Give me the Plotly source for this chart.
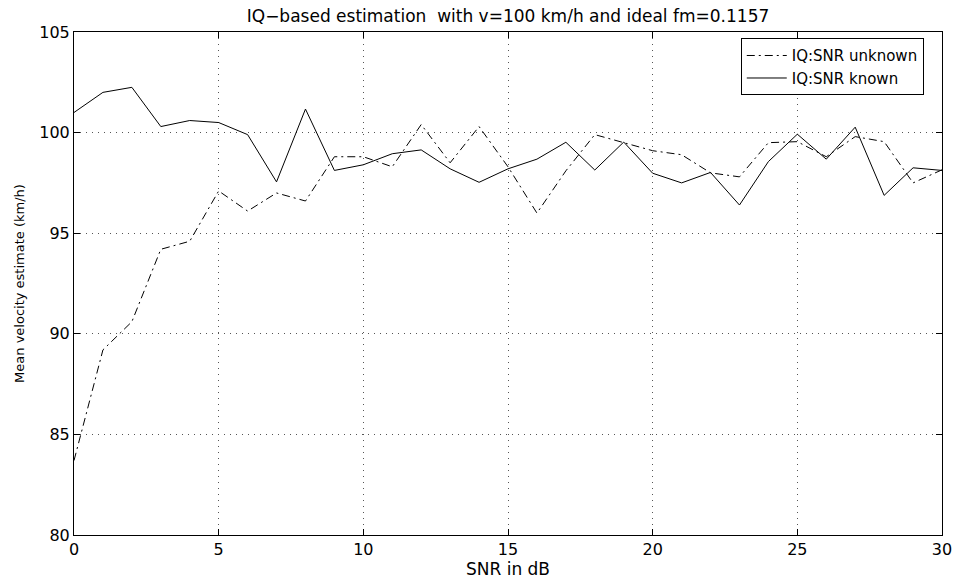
import plotly.graph_objects as go

snr = list(range(0, 31))
snr_unknown = [83.7, 89.2, 90.6, 94.2, 94.6, 97.1, 96.1, 97.0, 96.6, 98.8, 98.8,
               98.3, 100.4, 98.5, 100.3, 98.3, 96.0, 98.1, 99.9, 99.5, 99.1,
               98.9, 98.0, 97.8, 99.5, 99.55, 98.8, 99.8, 99.55, 97.5, 98.15]
snr_known = [101.0, 102.0, 102.25, 100.3, 100.6, 100.5, 99.9, 97.55, 101.17, 98.12, 98.4,
             98.95, 99.14, 98.2, 97.53, 98.2, 98.68, 99.52, 98.14, 99.53, 97.98,
             97.5, 98.02, 96.4, 98.56, 99.92, 98.68, 100.27, 96.88, 98.25, 98.12]
x_ticks = [0, 5, 10, 15, 20, 25, 30]
y_ticks = [80, 85, 90, 95, 100, 105]

FONT = "DejaVu Sans, Liberation Sans, Arial, sans-serif"

fig = go.Figure()
fig.add_trace(go.Scatter(x=snr, y=snr_unknown, mode="lines", name="IQ:SNR unknown",
                         line=dict(color="black", width=1, dash="8px,4px,2px,4px")))
fig.add_trace(go.Scatter(x=snr, y=snr_known, mode="lines", name="IQ:SNR known",
                         line=dict(color="black", width=1)))

axis_common = dict(showline=True, linecolor="black", linewidth=1, mirror="ticks",
                   ticks="inside", ticklen=6, tickcolor="black",
                   showgrid=True, gridcolor="#555555", gridwidth=1, griddash="1px,5px",
                   zeroline=False, tickfont=dict(size=16, color="black", family=FONT))

fig.update_xaxes(range=[0, 30], tickvals=x_ticks,
                 title=dict(text="SNR in dB", font=dict(size=17, family=FONT, color="black"), standoff=0),
                 **axis_common)
fig.update_yaxes(range=[80, 105], tickvals=y_ticks,
                 title=dict(text="Mean velocity estimate (km/h)", font=dict(size=13, family=FONT, color="black"), standoff=11),
                 **axis_common)

fig.update_layout(
    width=964, height=583,
    margin=dict(l=74, r=15, t=32, b=45),
    paper_bgcolor="white", plot_bgcolor="white",
    title=dict(text="IQ\u2212based estimation  with v=100 km/h and ideal fm=0.1157",
               x=0.5, xref="paper", xanchor="center", y=1 - 16 / 583, yref="container", yanchor="middle",
               font=dict(size=17, family=FONT, color="black")),
    legend=dict(x=0.979, y=0.9876, xanchor="right", yanchor="top",
                bordercolor="black", borderwidth=1, bgcolor="white",
                font=dict(size=15, family=FONT, color="black"),
                tracegroupgap=0, itemwidth=40),
    showlegend=True,
)

fig.write_html("out.html")
